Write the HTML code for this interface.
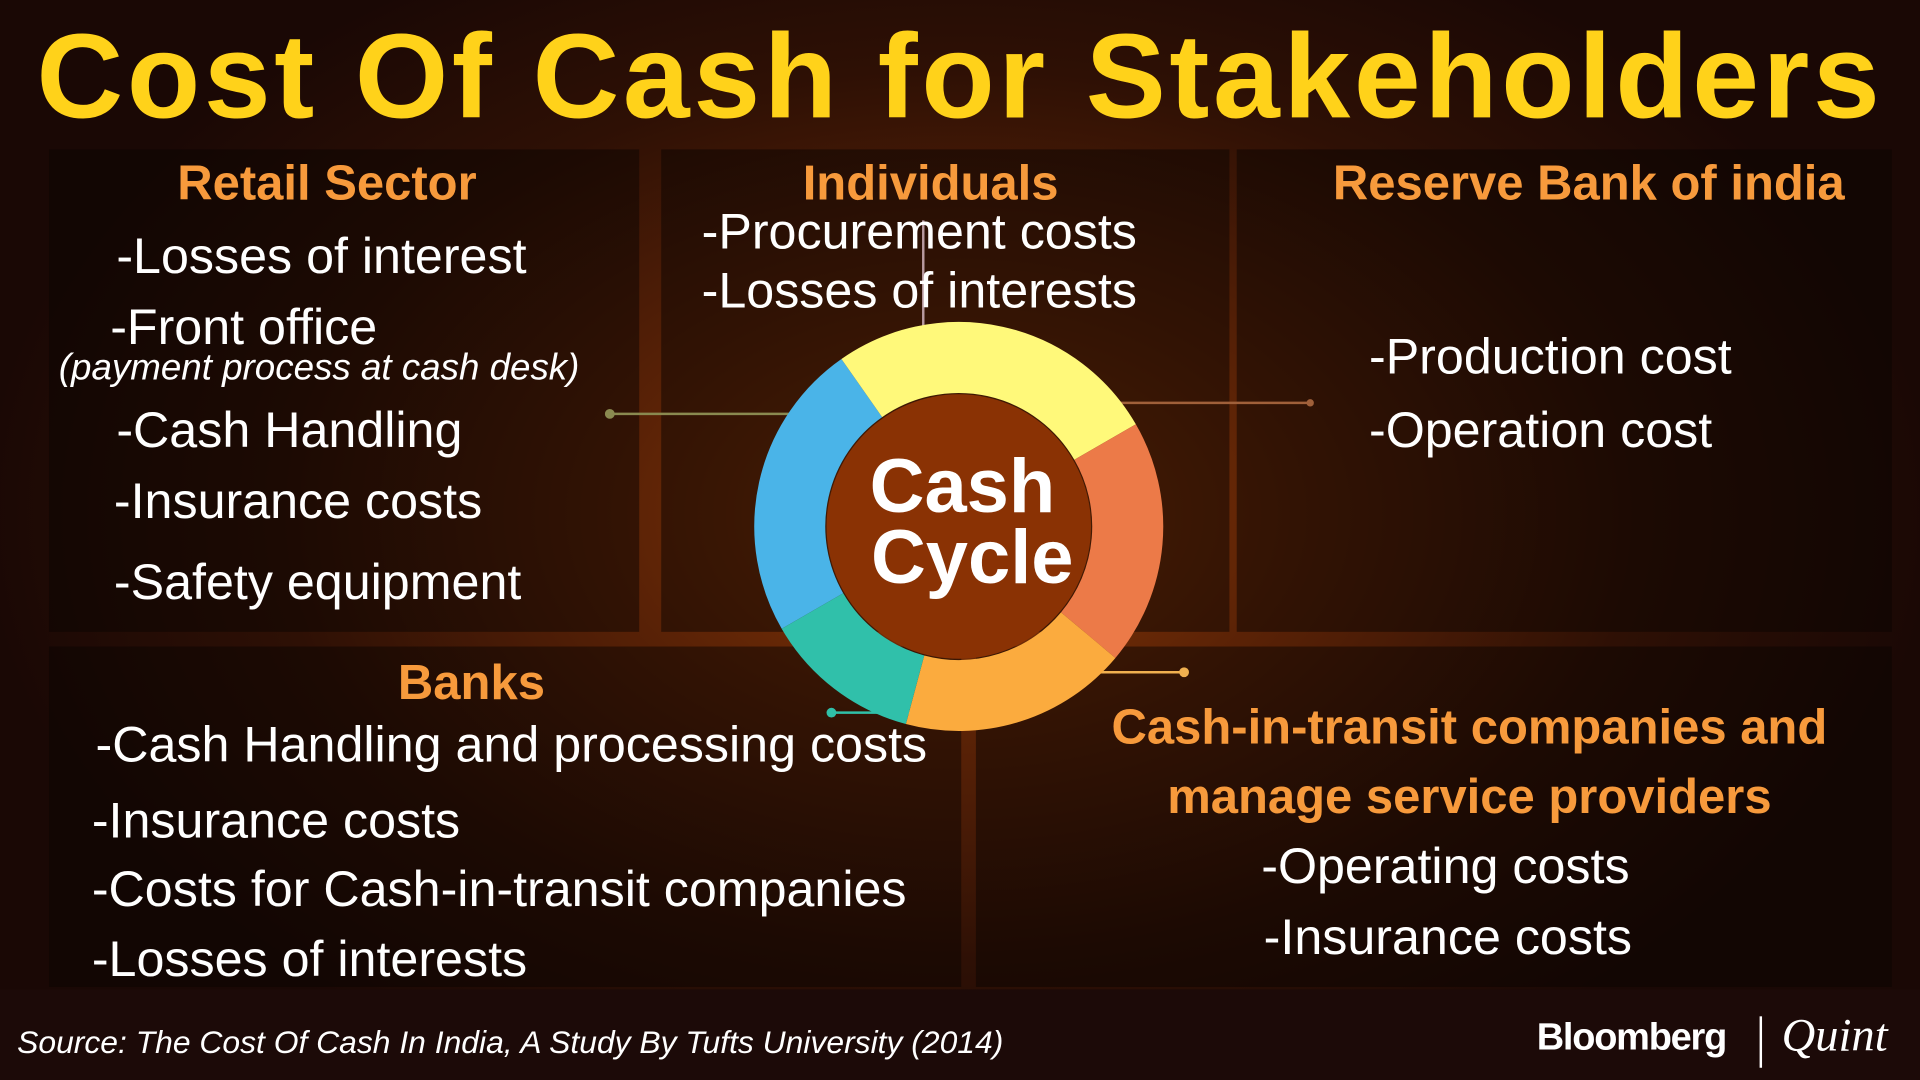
<!DOCTYPE html>
<html><head><meta charset="utf-8"><style>
html,body{margin:0;padding:0;background:#1a0905;}
#w{width:1920px;height:1080px;overflow:hidden;position:relative;}
#s{width:1568px;height:882px;position:absolute;left:0;top:0;transform:scale(1.22449);transform-origin:0 0;
background:radial-gradient(ellipse 800px 520px at 783px 420px,#8a3808 0%,#5a2206 35%,#2e1005 70%,#1a0805 100%);font-family:"Liberation Sans",sans-serif;}
.p{position:absolute;background:rgba(10,3,1,0.5);}
.t{position:absolute;color:#fff;font-size:41px;white-space:nowrap;}
.h{position:absolute;color:#f79a3c;font-weight:bold;font-size:40px;white-space:nowrap;text-align:center;}
</style></head><body><div id="w"><div id="s">
<div style="position:absolute;left:0;top:6px;width:1568px;text-align:center;color:#ffd21a;font-weight:bold;font-size:98px;letter-spacing:3px">Cost Of Cash for Stakeholders</div>
<div class="p" style="left:40px;top:122px;width:482px;height:394px"></div>
<div class="p" style="left:540px;top:122px;width:464px;height:394px"></div>
<div class="p" style="left:1010px;top:122px;width:535px;height:394px"></div>
<div class="p" style="left:40px;top:528px;width:745px;height:278px"></div>
<div class="p" style="left:797px;top:528px;width:748px;height:278px"></div>

<svg style="position:absolute;left:0;top:0" width="1568" height="882">
<line x1="754" y1="180" x2="754" y2="285" stroke="#b89aa0" stroke-width="2"/>
<line x1="498" y1="338" x2="660" y2="338" stroke="#8a8a50" stroke-width="2"/><circle cx="498" cy="338" r="4" fill="#8a8a50"/>
<line x1="900" y1="329" x2="1070" y2="329" stroke="#a0603a" stroke-width="2"/><circle cx="1070" cy="329" r="3" fill="#a0603a"/>
<line x1="880" y1="549" x2="967" y2="549" stroke="#f0b050" stroke-width="2"/><circle cx="967" cy="549" r="4" fill="#f0b050"/>
<line x1="679" y1="582" x2="760" y2="582" stroke="#30c0a8" stroke-width="2"/><circle cx="679" cy="582" r="4" fill="#30c0a8"/>
<g fill="none" stroke-width="58">
<path d="M663.5 499 A138 138 0 0 1 703.8 316.9" stroke="#4ab4e8"/>
<path d="M703.8 316.9 A138 138 0 0 1 902.5 361" stroke="#fff97a"/>
<path d="M902.5 361 A138 138 0 0 1 888.7 518.7" stroke="#ec7a48"/>
<path d="M888.7 518.7 A138 138 0 0 1 747.3 563.3" stroke="#fbab3e"/>
<path d="M747.3 563.3 A138 138 0 0 1 663.5 499" stroke="#30c0aa"/>
</g>
<circle cx="783" cy="430" r="108" fill="#8a3204"/>
<text x="786" y="418" text-anchor="middle" fill="#fff" font-weight="bold" font-size="62" font-family="Liberation Sans">Cash</text>
<text x="794" y="476" text-anchor="middle" fill="#fff" font-weight="bold" font-size="62" font-family="Liberation Sans">Cycle</text>
</svg>

<div class="h" style="left:40px;width:454px;top:128px">Retail Sector</div>
<div class="t" style="left:95px;top:186px">-Losses of interest</div>
<div class="t" style="left:90px;top:244px">-Front office</div>
<div class="t" style="left:48px;top:284px;font-size:30px;font-style:italic">(payment process at cash desk)</div>
<div class="t" style="left:95px;top:328px">-Cash Handling</div>
<div class="t" style="left:93px;top:386px">-Insurance costs</div>
<div class="t" style="left:93px;top:452px">-Safety equipment</div>

<div class="h" style="left:540px;width:440px;top:128px">Individuals</div>
<div class="t" style="left:573px;top:166px">-Procurement costs</div>
<div class="t" style="left:573px;top:214px">-Losses of interests</div>

<div class="h" style="left:1050px;width:495px;top:128px">Reserve Bank of india</div>
<div class="t" style="left:1118px;top:268px">-Production cost</div>
<div class="t" style="left:1118px;top:328px">-Operation cost</div>

<div class="h" style="left:40px;width:690px;top:536px">Banks</div>
<div class="t" style="left:78px;top:585px">-Cash Handling and processing costs</div>
<div class="t" style="left:75px;top:647px">-Insurance costs</div>
<div class="t" style="left:75px;top:703px">-Costs for Cash-in-transit companies</div>
<div class="t" style="left:75px;top:760px">-Losses of interests</div>

<div class="h" style="left:880px;width:640px;top:566px;line-height:57px">Cash-in-transit companies and<br>manage service providers</div>
<div class="t" style="left:1030px;top:684px">-Operating costs</div>
<div class="t" style="left:1032px;top:742px">-Insurance costs</div>

<div style="position:absolute;left:0;top:808px;width:1568px;height:74px;background:#1c0a08"></div>
<div class="t" style="left:14px;top:836px;font-size:26px;font-style:italic">Source: The Cost Of Cash In India, A Study By Tufts University (2014)</div>
<div class="t" style="left:1255px;top:829px;font-size:31px;font-weight:bold;letter-spacing:-1px">Bloomberg</div>
<div style="position:absolute;left:1437px;top:830px;width:2px;height:42px;background:#fff"></div>
<div class="t" style="left:1455px;top:824px;font-size:38px;font-style:italic;font-family:'Liberation Serif',serif">Quint</div>
</div></div></body></html>
